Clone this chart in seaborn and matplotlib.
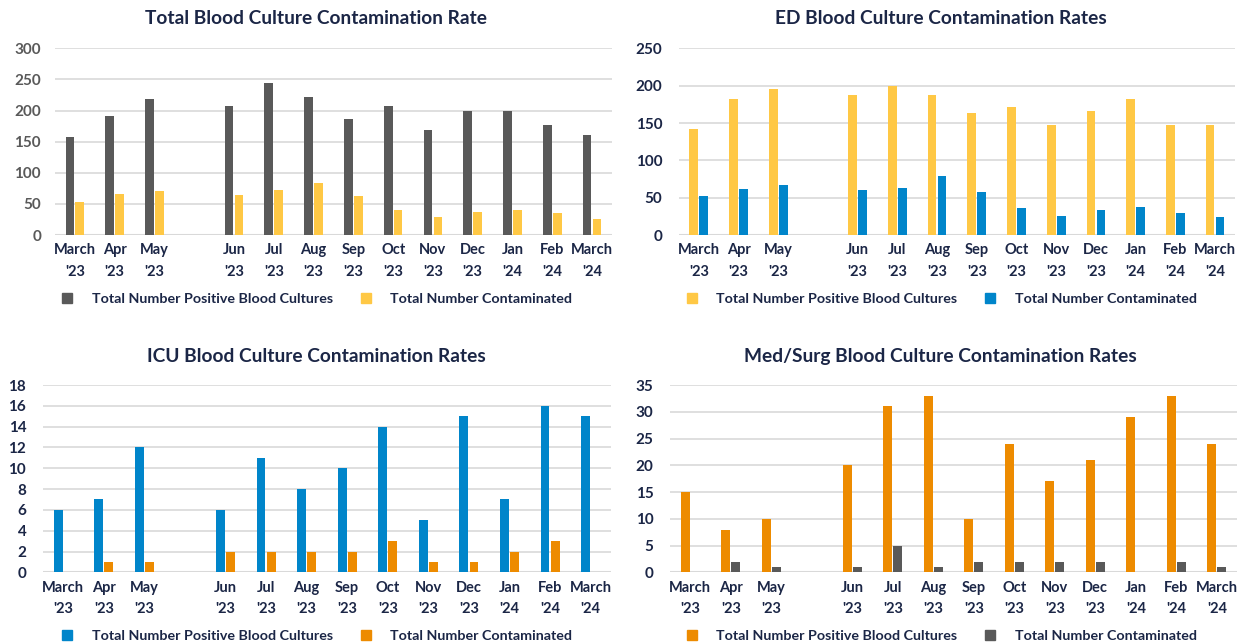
import seaborn as sns
import pandas as pd
import matplotlib.pyplot as plt
from matplotlib.lines import Line2D

# month slots (the blank slot is the gap between May and Jun)
months = ["March\n'23", "Apr\n'23", "May\n'23", " ", "Jun\n'23", "Jul\n'23", "Aug\n'23",
          "Sep\n'23", "Oct\n'23", "Nov\n'23", "Dec\n'23", "Jan\n'24", "Feb\n'24", "March\n'24"]
data_months = [m for m in months if m.strip()]

pos_label = "Total Number Positive Blood Cultures"
cont_label = "Total Number Contaminated"

total_pos = [157, 191, 219, 208, 244, 222, 186, 208, 168, 200, 199, 176, 160]
total_cont = [53, 66, 70, 64, 73, 83, 63, 40, 29, 37, 40, 35, 25]

ed_pos = [142, 182, 195, 188, 200, 188, 164, 172, 147, 166, 182, 147, 147]
ed_cont = [52, 62, 67, 60, 63, 79, 57, 36, 25, 33, 37, 29, 24]

icu_pos = [6, 7, 12, 6, 11, 8, 10, 14, 5, 15, 7, 16, 15]
icu_cont = [0, 1, 1, 2, 2, 2, 2, 3, 1, 1, 2, 3, 0]

ms_pos = [15, 8, 10, 20, 31, 33, 10, 24, 17, 21, 29, 33, 24]
ms_cont = [0, 2, 1, 1, 5, 1, 2, 2, 2, 2, 0, 2, 1]

NAVY = "#1b2646"
GREY = "#595959"
YELLOW = "#FFC845"
BLUE = "#0085CA"
ORANGE = "#ED8B00"

sns.set_theme(style="white")
plt.rcParams["font.family"] = ["Lato", "DejaVu Sans"]
plt.rcParams["font.weight"] = "bold"


def make_df(pos, cont):
    df = pd.DataFrame({"month": data_months * 2,
                       "series": [pos_label] * len(pos) + [cont_label] * len(cont),
                       "value": pos + cont})
    return df


def panel(ax, pos, cont, colors, yticks, ytick_color, title, tx, ty, ly, pad):
    df = make_df(pos, cont)
    sns.barplot(data=df, x="month", y="value", hue="series", order=months,
                hue_order=[pos_label, cont_label], palette=colors, saturation=1,
                width=0.5, gap=0.12, ax=ax, legend=False, linewidth=0)
    ax.set_xlim(-0.5, len(months) - 0.5)
    ax.set_ylim(0, yticks[-1])
    ax.set_yticks(yticks)
    ax.yaxis.grid(True, color="#d9d9d9", linewidth=1.2)
    ax.set_axisbelow(True)
    for s in ax.spines.values():
        s.set_visible(False)
    ax.axhline(0, color="#d9d9d9", linewidth=1.5, zorder=0)
    ax.set_xlabel("")
    ax.set_ylabel("")
    ax.tick_params(axis="x", length=0, pad=6, labelsize=10.5, labelcolor=NAVY)
    ax.tick_params(axis="y", length=0, pad=pad, labelsize=11, labelcolor=ytick_color)
    for lab in ax.get_xticklabels():
        lab.set_fontweight("bold")
        lab.set_linespacing(1.65)
    for lab in ax.get_yticklabels():
        lab.set_fontweight("bold")
    fig.text(tx, ty, title, ha="center", va="center", fontsize=13.8,
             fontweight="bold", color=NAVY)
    handles = [Line2D([], [], marker="s", linestyle="", markersize=7,
                      markerfacecolor=c, markeredgecolor=c) for c in colors]
    fig.legend(handles, [pos_label, cont_label], loc="center",
               bbox_to_anchor=(tx, ly), ncol=2, frameon=False,
               prop={"size": 10.3, "weight": "bold"}, labelcolor=NAVY,
               handlelength=1.0, handletextpad=1.2, columnspacing=1.8)


fig = plt.figure(figsize=(12.41, 6.44), dpi=100)
ax1 = fig.add_axes([0.0443, 0.635, 0.4488, 0.29])
ax2 = fig.add_axes([0.5471, 0.635, 0.448, 0.29])
ax3 = fig.add_axes([0.0346, 0.1113, 0.4577, 0.2908])
ax4 = fig.add_axes([0.5399, 0.1113, 0.4569, 0.2908])

panel(ax1, total_pos, total_cont, [GREY, YELLOW], list(range(0, 301, 50)), GREY,
      "Total Blood Culture Contamination Rate", 0.2546, 0.972, 0.5357, 10)
panel(ax2, ed_pos, ed_cont, [YELLOW, BLUE], list(range(0, 251, 50)), NAVY,
      "ED Blood Culture Contamination Rates", 0.758, 0.972, 0.5357, 12)
panel(ax3, icu_pos, icu_cont, [BLUE, ORANGE], list(range(0, 19, 2)), NAVY,
      "ICU Blood Culture Contamination Rates", 0.2546, 0.447, 0.0124, 12)
panel(ax4, ms_pos, ms_cont, [ORANGE, GREY], list(range(0, 36, 5)), NAVY,
      "Med/Surg Blood Culture Contamination Rates", 0.758, 0.447, 0.0124, 12)

fig.savefig("out.png", dpi=100)
